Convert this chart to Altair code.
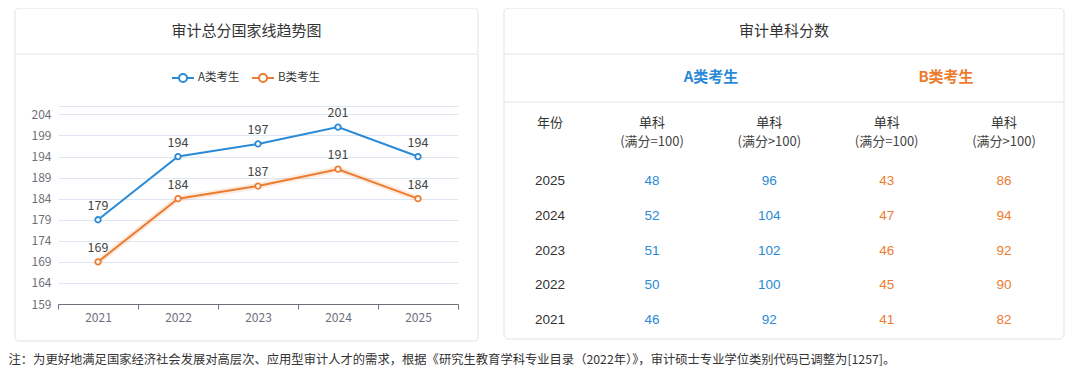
import altair as alt
import pandas as pd

# ---------------- data ----------------
years = ["2021", "2022", "2023", "2024", "2025"]
score_a = [179, 194, 197, 201, 194]
score_b = [169, 184, 187, 191, 184]
series_names = ["A类考生", "B类考生"]
y_ticks = [159, 164, 169, 174, 179, 184, 189, 194, 199, 204, 206]

table_years = ["2025", "2024", "2023", "2022", "2021"]
a_eq100 = [48, 52, 51, 50, 46]
a_gt100 = [96, 104, 102, 100, 92]
b_eq100 = [43, 47, 46, 45, 41]
b_gt100 = [86, 94, 92, 90, 82]
col_keys = ["A=100", "A>100", "B=100", "B>100"]
col_group = ["A类考生", "A类考生", "B类考生", "B类考生"]
col_head1 = ["单科", "单科", "单科", "单科"]
col_head2 = ["(满分=100)", "(满分>100)", "(满分=100)", "(满分>100)"]

left_title = "审计总分国家线趋势图"
right_title = "审计单科分数"
year_head = "年份"
note = "注：为更好地满足国家经济社会发展对高层次、应用型审计人才的需求，根据《研究生教育学科专业目录（2022年）》，审计硕士专业学位类别代码已调整为[1257]。"

# ---------------- style ----------------
BLUE = "#2b8ad6"
ORANGE = "#ec7c30"
FONT = "Microsoft YaHei, Noto Sans CJK SC, sans-serif"
NUMFONT = "Liberation Sans, Arial, Noto Sans CJK SC, sans-serif"
CARD_STROKE = "#e3e3e3"
DIV = "#e6e6e6"
AXIS_C = "#6e7079"
TXT = "#333333"

color_scale = alt.Scale(domain=series_names, range=[BLUE, ORANGE])

# ---------------- left card: line chart ----------------
line_df = pd.DataFrame({
    "year": years * 2,
    "score": score_a + score_b,
    "series": [series_names[0]] * 5 + [series_names[1]] * 5,
})

W, H = 400, 198

x_enc = alt.X(
    "year:O",
    scale=alt.Scale(type="band", paddingInner=0, paddingOuter=0),
    bandPosition=0.5,
    axis=alt.Axis(
        title=None, labelAngle=0, tickBand="extent", grid=False,
        domainColor=AXIS_C, tickColor=AXIS_C, tickSize=5,
        labelColor=AXIS_C, labelFontSize=12, labelFont=FONT, labelPadding=3,
    ),
)
y_enc = alt.Y(
    "score:Q",
    scale=alt.Scale(domain=[159, 206], nice=False, zero=False),
    axis=alt.Axis(
        title=None, values=y_ticks, domain=False, ticks=False,
        labelExpr="datum.value > 204 ? '' : datum.label",
        gridColor="#e0e6f1", labelColor=AXIS_C, labelFontSize=12,
        labelFont=FONT, labelPadding=7,
    ),
)

one_l = pd.DataFrame({"t": [left_title]})
card_l = alt.Chart(one_l).mark_rect(
    fillOpacity=0, stroke=CARD_STROKE, strokeWidth=1, cornerRadius=4
).encode(x=alt.value(-43), x2=alt.value(420), y=alt.value(-98), y2=alt.value(235))

title_l = alt.Chart(one_l).mark_text(
    font=FONT, fontSize=15, color=TXT, baseline="middle", align="center"
).encode(x=alt.value(188.5), y=alt.value(-75), text="t:N")

div_l = alt.Chart(one_l).mark_rule(color=DIV, strokeWidth=1).encode(
    x=alt.value(-43), x2=alt.value(420), y=alt.value(-52))

# legend (drawn as marks, one group per series)
leg_layers = []
for name, col, x0 in [(series_names[0], BLUE, 114), (series_names[1], ORANGE, 194)]:
    d = pd.DataFrame({"series": [name]})
    leg_layers.append(alt.Chart(d).mark_rule(color=col, strokeWidth=2).encode(
        x=alt.value(x0), x2=alt.value(x0 + 22), y=alt.value(-28)))
    leg_layers.append(alt.Chart(d).mark_point(
        filled=False, fill="white", fillOpacity=1, opacity=1, color=col,
        size=64, strokeWidth=2).encode(x=alt.value(x0 + 11), y=alt.value(-28)))
    leg_layers.append(alt.Chart(d).mark_text(
        font=FONT, fontSize=11.5, color=TXT, align="left", baseline="middle").encode(
        x=alt.value(x0 + 26), y=alt.value(-28), text="series:N"))

# soft halo under the orange line (as in the reference)
halo = alt.Chart(line_df[line_df["series"] == series_names[1]]).mark_line(
    strokeWidth=6, opacity=0.15, color=ORANGE
).encode(x=x_enc, y=y_enc)

lines = alt.Chart(line_df).mark_line(strokeWidth=2).encode(
    x=x_enc, y=y_enc,
    color=alt.Color("series:N", scale=color_scale, legend=None),
)

points = alt.Chart(line_df).mark_point(
    filled=False, fill="white", fillOpacity=1, opacity=1, size=30, strokeWidth=1.8
).encode(
    x=x_enc, y=y_enc,
    stroke=alt.Stroke("series:N", scale=color_scale, legend=None),
)

labels = alt.Chart(line_df).mark_text(
    dy=-14, font=FONT, fontSize=12.5, color="#444444"
).encode(x=x_enc, y=y_enc, text="score:Q")

left = alt.layer(card_l, title_l, div_l, *leg_layers, halo, lines, points, labels).properties(
    width=W, height=H
)

# ---------------- right card: table ----------------
RW = 560
OY = -98  # right view origin is aligned with the left plot's origin

val_df = pd.DataFrame({
    "year": table_years * 4,
    "col": [c for c in col_keys for _ in table_years],
    "group": [g for g in col_group for _ in table_years],
    "value": a_eq100 + a_gt100 + b_eq100 + b_gt100,
})
head_df = pd.DataFrame({"col": col_keys, "h1": col_head1, "h2": col_head2})
grp_df = pd.DataFrame({"name": series_names})
yr_df = pd.DataFrame({"year": table_years})

col_x = alt.X("col:N", scale=alt.Scale(type="point", domain=col_keys, range=[148, 500], padding=0), axis=None)
row_y = alt.Y("year:N", scale=alt.Scale(type="point", domain=table_years,
                                        range=[173 + OY, 312 + OY], padding=0), axis=None)
tcolor = alt.Color("group:N", scale=color_scale, legend=None)

one = pd.DataFrame({"t": [right_title]})
card_r = alt.Chart(one).mark_rect(
    fillOpacity=0, stroke=CARD_STROKE, strokeWidth=1, cornerRadius=4
).encode(x=alt.value(0), x2=alt.value(RW), y=alt.value(OY), y2=alt.value(331 + OY))
title_r = alt.Chart(one).mark_text(font=FONT, fontSize=15, color=TXT).encode(
    x=alt.value(280), y=alt.value(23 + OY), text="t:N")
div_r1 = alt.Chart(one).mark_rule(color=DIV).encode(x=alt.value(0), x2=alt.value(RW), y=alt.value(46 + OY))
div_r2 = alt.Chart(one).mark_rule(color=DIV).encode(x=alt.value(0), x2=alt.value(RW), y=alt.value(94 + OY))

grp_text = alt.Chart(grp_df).mark_text(font=FONT, fontSize=15, fontWeight="bold").encode(
    x=alt.X("name:N", scale=alt.Scale(type="point", domain=series_names, range=[207, 442], padding=0), axis=None),
    y=alt.value(69 + OY),
    text="name:N",
    color=alt.Color("name:N", scale=color_scale, legend=None),
)

year_head_t = alt.Chart(pd.DataFrame({"t": [year_head]})).mark_text(
    font=FONT, fontSize=13, color=TXT).encode(x=alt.value(46), y=alt.value(115 + OY), text="t:N")
head1 = alt.Chart(head_df).mark_text(font=FONT, fontSize=13, color=TXT).encode(
    x=col_x, y=alt.value(115 + OY), text="h1:N")
head2 = alt.Chart(head_df).mark_text(font=FONT, fontSize=13, color="#444444").encode(
    x=col_x, y=alt.value(134 + OY), text="h2:N")

year_col = alt.Chart(yr_df).mark_text(font=NUMFONT, fontSize=13.5, color=TXT).encode(
    x=alt.value(46), y=row_y, text="year:N")
vals = alt.Chart(val_df).mark_text(font=NUMFONT, fontSize=13.5).encode(
    x=col_x, y=row_y, text="value:Q", color=tcolor)

right = alt.layer(
    card_r, title_r, div_r1, div_r2, grp_text, year_head_t, head1, head2, year_col, vals
).resolve_scale(x="independent", y="independent").properties(width=RW, height=H)

chart = alt.hconcat(left, right, spacing=24).properties(
    title=alt.TitleParams(
        text=note, orient="bottom", anchor="start", fontSize=12.3,
        fontWeight="normal", color=TXT, font=FONT, offset=12, dx=-6,
    ),
    padding={"left": 0, "top": -1, "right": 0, "bottom": 0},
    background="white",
).configure_view(stroke=None)

chart.save("out.html", embed_options={"renderer": "svg", "actions": False})
